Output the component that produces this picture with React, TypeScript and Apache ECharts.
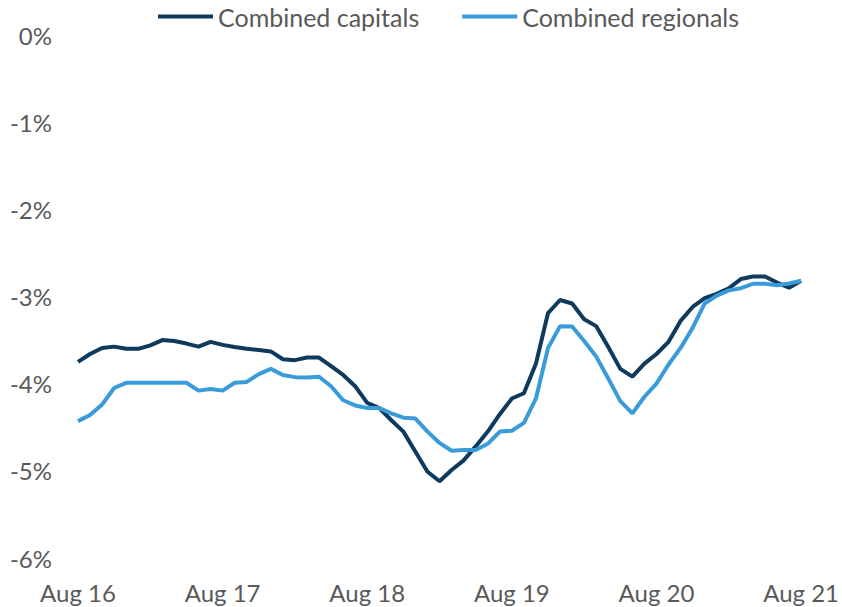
import React, { useEffect, useRef } from "react";
import * as echarts from "echarts";

const MONTHS = ["Jan", "Feb", "Mar", "Apr", "May", "Jun", "Jul", "Aug", "Sep", "Oct", "Nov", "Dec"];
const START_MONTH = 7; // Aug
const START_YEAR = 16;
const N_POINTS = 61;

const categories: string[] = [];
for (let i = 0; i < N_POINTS; i++) {
  const m = (START_MONTH + i) % 12;
  const y = START_YEAR + Math.floor((START_MONTH + i) / 12);
  categories.push(`${MONTHS[m]} ${y}`);
}

const capitals = [
  -3.75, -3.66, -3.59, -3.575, -3.6, -3.6, -3.56, -3.5, -3.51, -3.54, -3.575, -3.52,
  -3.555, -3.58, -3.6, -3.615, -3.63, -3.72, -3.73, -3.7, -3.7, -3.8, -3.9, -4.03,
  -4.22, -4.28, -4.42, -4.55, -4.78, -5.01, -5.12, -4.99, -4.88, -4.72, -4.55, -4.35,
  -4.17, -4.11, -3.77, -3.19, -3.04, -3.08, -3.26, -3.34, -3.58, -3.83, -3.92, -3.77,
  -3.66, -3.52, -3.28, -3.12, -3.02, -2.97, -2.905, -2.8, -2.77, -2.77, -2.84, -2.9,
  -2.82,
];

const regionals = [
  -4.43, -4.36, -4.24, -4.05, -3.99, -3.99, -3.99, -3.99, -3.99, -3.99, -4.08, -4.06,
  -4.08, -3.99, -3.98, -3.89, -3.83, -3.9, -3.925, -3.93, -3.92, -4.03, -4.19, -4.25,
  -4.28, -4.28, -4.34, -4.39, -4.4, -4.55, -4.68, -4.77, -4.76, -4.76, -4.69, -4.55,
  -4.54, -4.45, -4.17, -3.59, -3.34, -3.345, -3.51, -3.69, -3.94, -4.2, -4.34, -4.15,
  -4.0, -3.78, -3.59, -3.36, -3.08, -2.99, -2.93, -2.905, -2.855, -2.855, -2.87, -2.85,
  -2.82,
];

const Y_MIN = -6;
const Y_MAX = 0;
const Y_STEP = 1;

const FONT = "Lato, sans-serif";
const TEXT_COLOR = "#595959";
const DARK = "#0e3a5d";
const LIGHT = "#3a9bd9";

export default function App() {
  const ref = useRef<HTMLDivElement>(null);
  useEffect(() => {
    document.body.style.margin = "0";
    if (!ref.current) return;
    const chart = echarts.init(ref.current, undefined, { renderer: "svg" });
    chart.setOption({
      animation: false,
      textStyle: { fontFamily: FONT },
      legend: {
        top: 4,
        left: 158,
        padding: 0,
        itemWidth: 55,
        itemHeight: 4,
        itemGap: 43,
        icon: "rect",
        textStyle: { fontSize: 25, color: TEXT_COLOR, fontFamily: FONT },
        data: ["Combined capitals", "Combined regionals"],
      },
      grid: { left: 78, right: 35, top: 35, bottom: 49, containLabel: false },
      xAxis: {
        type: "category",
        data: categories,
        boundaryGap: false,
        axisLine: { show: false },
        axisTick: { show: false },
        axisLabel: {
          interval: 11,
          margin: 22,
          fontSize: 24,
          color: TEXT_COLOR,
          fontFamily: FONT,
        },
        splitLine: { show: false },
      },
      yAxis: {
        type: "value",
        min: Y_MIN,
        max: Y_MAX,
        interval: Y_STEP,
        axisLine: { show: false },
        axisTick: { show: false },
        splitLine: { show: false },
        axisLabel: {
          margin: 26,
          fontSize: 24,
          color: TEXT_COLOR,
          fontFamily: FONT,
          formatter: (v: number) => `${v}%`,
        },
      },
      series: [
        {
          name: "Combined capitals",
          type: "line",
          data: capitals,
          symbol: "none",
          lineStyle: { color: DARK, width: 4 },
          itemStyle: { color: DARK },
        },
        {
          name: "Combined regionals",
          type: "line",
          data: regionals,
          symbol: "none",
          lineStyle: { color: LIGHT, width: 4 },
          itemStyle: { color: LIGHT },
        },
      ],
    });
    return () => chart.dispose();
  }, []);
  return <div ref={ref} style={{ width: 842, height: 607 }} />;
}
